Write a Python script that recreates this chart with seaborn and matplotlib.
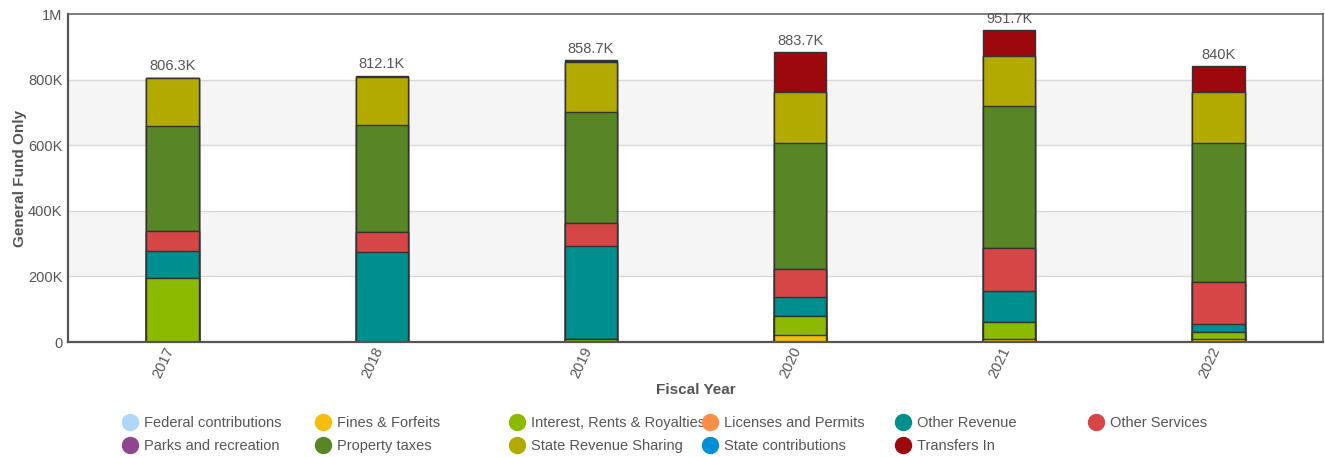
import matplotlib
matplotlib.use("Agg")
import matplotlib.pyplot as plt
import matplotlib.transforms as mtransforms
from matplotlib.lines import Line2D
import seaborn as sns
import pandas as pd
import numpy as np

years = ["2017", "2018", "2019", "2020", "2021", "2022"]
series_names = ["Federal contributions", "Fines & Forfeits", "Interest, Rents & Royalties",
                "Licenses and Permits", "Other Revenue", "Other Services",
                "Parks and recreation", "Property taxes", "State Revenue Sharing",
                "State contributions", "Transfers In"]
# values in thousands
federal = [0, 0, 0, 0, 0, 0]
fines = [0, 0, 0, 21, 8, 9]
interest = [196, 1.5, 8, 58, 54, 21]
licenses = [0, 0, 0, 0, 0, 0]
other_revenue = [80.4, 272, 284.7, 57, 93.5, 24]
other_services = [63, 63, 69, 86, 130, 130]
parks = [0, 0, 0, 0, 0, 0]
property_taxes = [318.2, 325, 338, 386, 432.5, 424]
state_rev_sharing = [146.4, 147, 155, 154, 153.7, 154]
state_contrib = [0, 0, 0, 0, 0, 0]
transfers = [2.3, 3.6, 4, 121.7, 80, 78]

colors = ["#AFD8F8", "#F6BD0F", "#8BBA00", "#FF8E46", "#008E8E", "#D64646",
          "#8E468E", "#588526", "#B3AA00", "#008ED6", "#9D080D"]

all_series = [federal, fines, interest, licenses, other_revenue, other_services,
              parks, property_taxes, state_rev_sharing, state_contrib, transfers]

sns.set_theme(style="white")
plt.rcParams["font.family"] = ["Liberation Sans", "DejaVu Sans"]

fig = plt.figure(figsize=(13.25, 4.57), dpi=100)
ax = fig.add_axes([68 / 1325, 115 / 457, 1255 / 1325, 328 / 457])

# background bands
for lo, hi in [(200000, 400000), (600000, 800000)]:
    ax.axhspan(lo, hi, color="#F5F5F5", zorder=0, lw=0)
for yv in [200000, 400000, 600000, 800000]:
    ax.axhline(yv, color="#D9D9D9", lw=1, zorder=0.5)

cum = np.cumsum(np.array(all_series, dtype=float), axis=0) * 1000
for i in range(len(all_series) - 1, -1, -1):
    df = pd.DataFrame({"year": years, "value": cum[i]})
    sns.barplot(data=df, x="year", y="value", color=colors[i], width=0.25,
                edgecolor="#333333", linewidth=1, saturation=1, ax=ax, zorder=2)

totals = cum[-1]
for j, t in enumerate(totals):
    lab = f"{t/1000:.1f}".rstrip("0").rstrip(".") + "K"
    ax.annotate(lab, (j, t), xytext=(0, 3), textcoords="offset points",
                ha="center", va="bottom", fontsize=10.5, color="#555555", zorder=5)

ax.set_xlim(-0.5, 5.5)
ax.set_ylim(0, 1000000)
ax.set_yticks([0, 200000, 400000, 600000, 800000, 1000000])
ax.set_yticklabels(["0", "200K", "400K", "600K", "800K", "1M"])
ax.tick_params(axis="y", length=0, labelsize=10.5, labelcolor="#555555", pad=4)
ax.tick_params(axis="x", length=0, labelsize=10.5, labelcolor="#555555", pad=2)
offset = mtransforms.ScaledTranslation(4 / 100, 0, fig.dpi_scale_trans)
for lbl in ax.get_xticklabels():
    lbl.set_rotation(65)
    lbl.set_ha("right")
    lbl.set_va("top")
    lbl.set_transform(lbl.get_transform() + offset)
ax.set_xlabel("Fiscal Year", fontsize=11, fontweight="bold", color="#555555", labelpad=2)
ax.set_ylabel("General Fund Only", fontsize=11, fontweight="bold", color="#555555", labelpad=1)

for s in ["top", "right"]:
    ax.spines[s].set_color("#666666")
    ax.spines[s].set_linewidth(1.2)
for s in ["left", "bottom"]:
    ax.spines[s].set_color("#555555")
    ax.spines[s].set_linewidth(1.6)

# legend: 6 fixed-width columns, 2 rows, row-major order
col_x = [123, 316, 510, 703, 896, 1089]
for c in range(6):
    idx = [c, c + 6] if c + 6 < len(series_names) else [c]
    handles = [Line2D([0], [0], marker="o", linestyle="", markersize=11.5,
                      markerfacecolor=colors[k], markeredgecolor=colors[k]) for k in idx]
    leg = fig.legend(handles, [series_names[k] for k in idx], loc="upper left",
                     bbox_to_anchor=(col_x[c] / 1325, 1 - 416 / 457), frameon=False,
                     fontsize=10.5, handlelength=1.0, handletextpad=0.45,
                     borderpad=0, borderaxespad=0, labelspacing=0.62)
    for txt in leg.get_texts():
        txt.set_color("#555555")

fig.savefig("out.png", dpi=100)
